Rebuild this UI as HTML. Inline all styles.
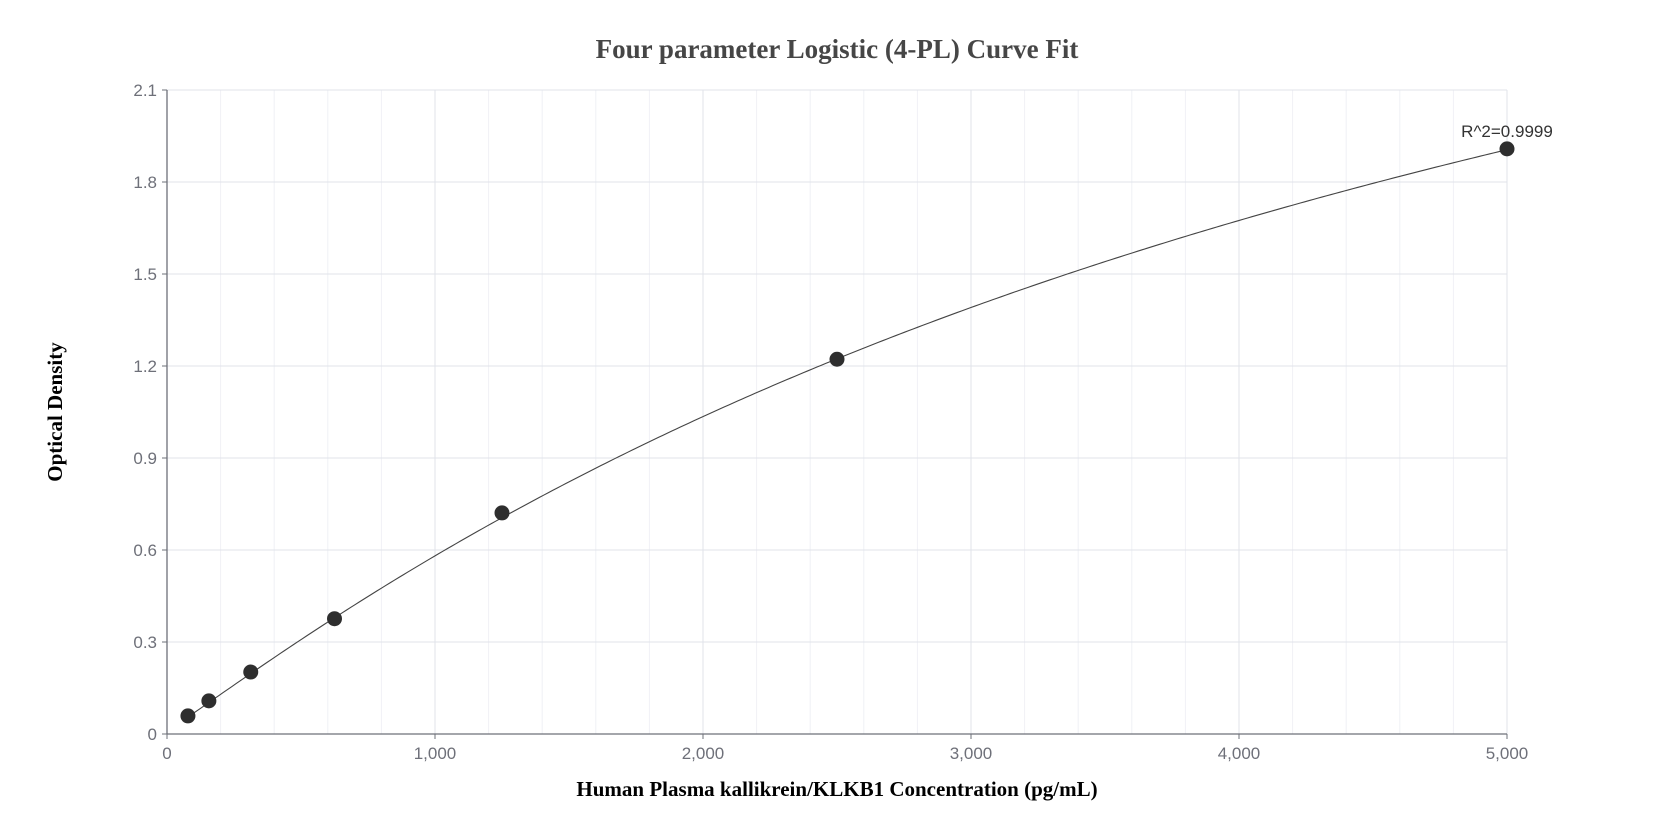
<!DOCTYPE html>
<html><head><meta charset="utf-8"><style>
body{margin:0;background:#fff;}
svg{display:block;}
</style></head><body>
<svg id="chart" width="1675" height="840" xmlns="http://www.w3.org/2000/svg">
<text x="837" y="58" text-anchor="middle" font-family="Liberation Serif, serif" font-weight="bold" font-size="27" fill="#464646">Four parameter Logistic (4-PL) Curve Fit</text>
<text transform="translate(62,412) rotate(-90)" text-anchor="middle" font-family="Liberation Serif, serif" font-weight="bold" font-size="21" fill="#000">Optical Density</text>
<text x="837" y="796" text-anchor="middle" font-family="Liberation Serif, serif" font-weight="bold" font-size="21" fill="#000">Human Plasma kallikrein/KLKB1 Concentration (pg/mL)</text>
<g id="grid"></g><g id="axes"></g><g id="marks"></g>
</svg>
<script>
const xTicks=[0,1000,2000,3000,4000,5000];
const xTickLabels=["0","1,000","2,000","3,000","4,000","5,000"];
const yTicks=[0,0.3,0.6,0.9,1.2,1.5,1.8,2.1];
const yTickLabels=["0","0.3","0.6","0.9","1.2","1.5","1.8","2.1"];
const concentrations=[78.125,156.25,312.5,625,1250,2500,5000];
const odValues=[0.059,0.108,0.202,0.376,0.721,1.222,1.908];
const fitParams=[0.01,1.05,5500,4.0]; // A,B,C,D
const r2Label="R^2=0.9999";
const L=167,R=1507,T=90,B=734,XMAX=5000,YMAX=2.1;
const sx=v=>L+(R-L)*v/XMAX, sy=v=>B-(B-T)*v/YMAX;
const NS="http://www.w3.org/2000/svg";
function mk(tag,attrs,parent){const e=document.createElementNS(NS,tag);for(const k in attrs)e.setAttribute(k,attrs[k]);parent.appendChild(e);return e;}
const grid=document.getElementById('grid'),axes=document.getElementById('axes'),marks=document.getElementById('marks');
for(let v=200;v<=XMAX;v+=200){const g=mk('line',{x1:sx(v),x2:sx(v),y1:T,y2:B,stroke:v%1000===0?'#e0e3ea':'#f0f1f6','stroke-width':1},grid);

}
yTicks.forEach((v,i)=>{if(v>0){const g=mk('line',{x1:L,x2:R,y1:sy(v),y2:sy(v),stroke:'#e0e3ea','stroke-width':1},grid);

}
const tk=mk('line',{x1:L-5,x2:L,y1:sy(v),y2:sy(v),stroke:'#6e7079'},axes);


const t=mk('text',{x:L-10,y:sy(v)+6,'text-anchor':'end','font-family':'Liberation Sans, sans-serif','font-size':17,fill:'#6e7079'},axes);t.textContent=yTickLabels[i];

});
xTicks.forEach((v,i)=>{const tk=mk('line',{x1:sx(v),x2:sx(v),y1:B,y2:B+5,stroke:'#6e7079'},axes);


const t=mk('text',{x:sx(v),y:B+25,'text-anchor':'middle','font-family':'Liberation Sans, sans-serif','font-size':17,fill:'#6e7079'},axes);t.textContent=xTickLabels[i];

});
const ya=mk('line',{x1:L,x2:L,y1:T,y2:B,stroke:'#6e7079','stroke-width':1.3},axes);


const xa=mk('line',{x1:L,x2:R,y1:B,y2:B,stroke:'#6e7079','stroke-width':1.3},axes);


const [A,Bp,C,D]=fitParams;const f=x=>D+(A-D)/(1+Math.pow(x/C,Bp));
let d='';const x0=concentrations[0],x1=concentrations[concentrations.length-1];
for(let i=0;i<=300;i++){const x=x0+(x1-x0)*i/300;d+=(i?'L':'M')+sx(x).toFixed(2)+','+sy(f(x)).toFixed(2);}
const path=mk('path',{d:d,fill:'none',stroke:'#444','stroke-width':1.1},marks);


concentrations.forEach((c,i)=>{const p=mk('circle',{cx:sx(c),cy:sy(odValues[i]),r:7.5,fill:'#2e2e2e'},marks);

});
const lab=mk('text',{x:sx(x1),y:sy(odValues[odValues.length-1])-12,'text-anchor':'middle','font-family':'Liberation Sans, sans-serif','font-size':17,fill:'#333'},marks);lab.textContent=r2Label;


</script>
</body></html>
